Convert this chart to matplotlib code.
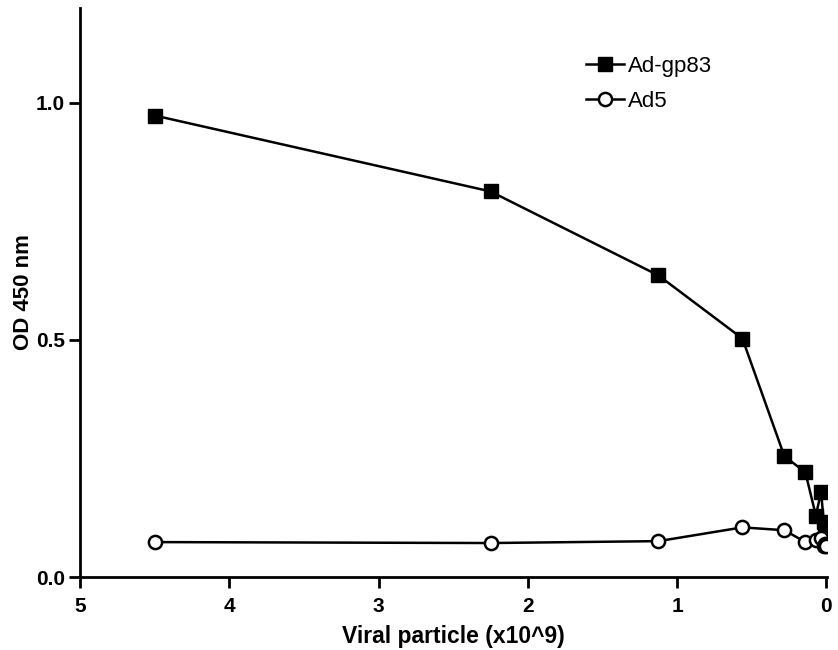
import matplotlib
matplotlib.use('Agg')
import matplotlib.pyplot as plt

plt.rcParams['font.family'] = ['Liberation Sans', 'DejaVu Sans']

# dilution series (x10^9 viral particles)
particles = [4.5, 2.25, 1.125, 0.5625, 0.28125, 0.140625, 0.0703, 0.0352,
             0.0176, 0.0088, 0.0044, 0.0022]
od_gp83 = [0.973, 0.813, 0.636, 0.503, 0.255, 0.221, 0.130, 0.180,
           0.116, 0.100, 0.090, 0.084]
od_ad5 = [0.074, 0.072, 0.076, 0.105, 0.099, 0.074, 0.078, 0.082,
          0.065, 0.070, 0.068, 0.066]

xticks = [5, 4, 3, 2, 1, 0]
yticks = [0.0, 0.5, 1.0]

fig = plt.figure(figsize=(8.38, 6.5), dpi=100)
ax = fig.add_axes([0.0955, 0.112, 0.8915, 0.876])

ax.plot(particles, od_gp83, '-', color='black', lw=1.8, marker='s',
        markersize=10.5, markerfacecolor='black', markeredgecolor='black',
        label='Ad-gp83')
ax.plot(particles, od_ad5, '-', color='black', lw=1.8, marker='o',
        markersize=9.5, markerfacecolor='white', markeredgecolor='black',
        markeredgewidth=1.8, label='Ad5')

ax.set_xlim(5, -0.005)
ax.set_ylim(0, 1.2)
ax.set_xticks(xticks)
ax.set_xticklabels([str(t) for t in xticks])
ax.set_yticks(yticks)
ax.set_yticklabels(['%.1f' % t for t in yticks])

for side in ['top', 'right']:
    ax.spines[side].set_visible(False)
for side in ['left', 'bottom']:
    ax.spines[side].set_linewidth(2)
ax.tick_params(width=2, length=8, labelsize=15, direction='out', pad=3)
ax.tick_params(axis='x', pad=6)
for lab in ax.get_xticklabels() + ax.get_yticklabels():
    lab.set_fontweight('bold')

ax.set_xlabel('Viral particle (x10^9)', fontsize=16.5, fontweight='bold', labelpad=7)
ax.set_ylabel('OD 450 nm', fontsize=16, fontweight='bold', labelpad=1)

ax.legend(loc='upper left', bbox_to_anchor=(0.651, 0.951), frameon=False,
          fontsize=16, handlelength=1.7, handletextpad=0.15, labelspacing=0.65)

fig.savefig('out.png', dpi=100)
